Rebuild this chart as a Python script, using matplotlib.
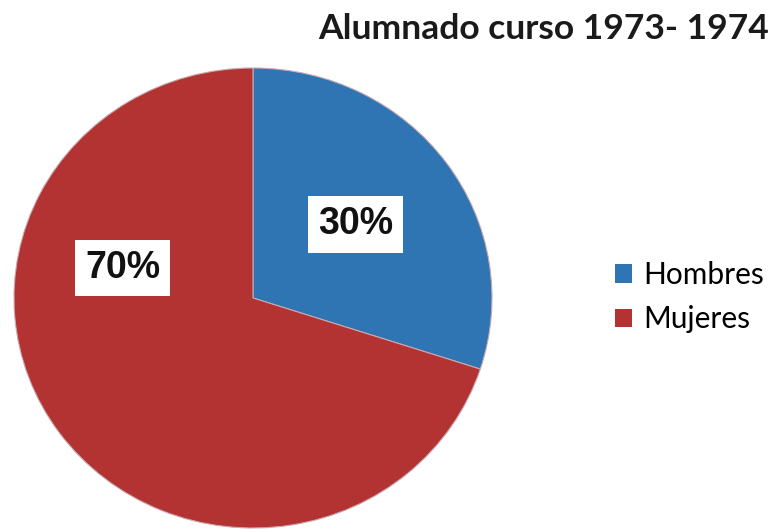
import matplotlib.pyplot as plt

# datos del gráfico
categorias = ['Hombres', 'Mujeres']
porcentajes = [30, 70]
colores = ['#2F74B3', '#B33232']
titulo = 'Alumnado curso 1973- 1974'

W, H = 776, 532
fig = plt.figure(figsize=(W / 100, H / 100), dpi=100)
fig.patch.set_facecolor('white')

# eje de la tarta (ligeramente achatado, como en la imagen original)
cx, cy, rx, ry = 253, 298, 239, 230
ax = fig.add_axes([(cx - rx) / W, (H - cy - ry) / H, 2 * rx / W, 2 * ry / H])
cunas, textos = ax.pie(porcentajes, colors=colores, startangle=90, counterclock=False,
                       wedgeprops=dict(edgecolor='#c9a9b0', linewidth=0.8))
ax.set_aspect('auto')
ax.set_xlim(-1, 1)
ax.set_ylim(-1, 1)
ax.axis('off')

# etiquetas de porcentaje en cajas blancas
posiciones = [(0.43, 0.32), (-0.545, 0.13)]
for valor, (x, y) in zip(porcentajes, posiciones):
    ax.text(x, y, f'{valor}%', ha='center', va='center', fontsize=27,
            family='Liberation Sans', fontweight='bold', color='#111111',
            bbox=dict(boxstyle='square,pad=0.27', facecolor='white', edgecolor='none'))

# título
fig.text(318 / W, 1 - 39 / H, titulo, ha='left', va='baseline', fontsize=25.5,
         fontweight='bold', family='Lato', color='#1a1a1a')

# leyenda
leg = fig.legend(cunas, categorias, loc='upper left', bbox_to_anchor=(615 / W, 1 - 261 / H),
                 frameon=False, borderpad=0, borderaxespad=0, handlelength=0.58,
                 handleheight=0.58, handletextpad=0.36, labelspacing=0.55,
                 prop=dict(family='Lato', size=21.5))
for h in leg.legend_handles:
    h.set_edgecolor('none')

fig.savefig('out.png', dpi=100, facecolor='white')
